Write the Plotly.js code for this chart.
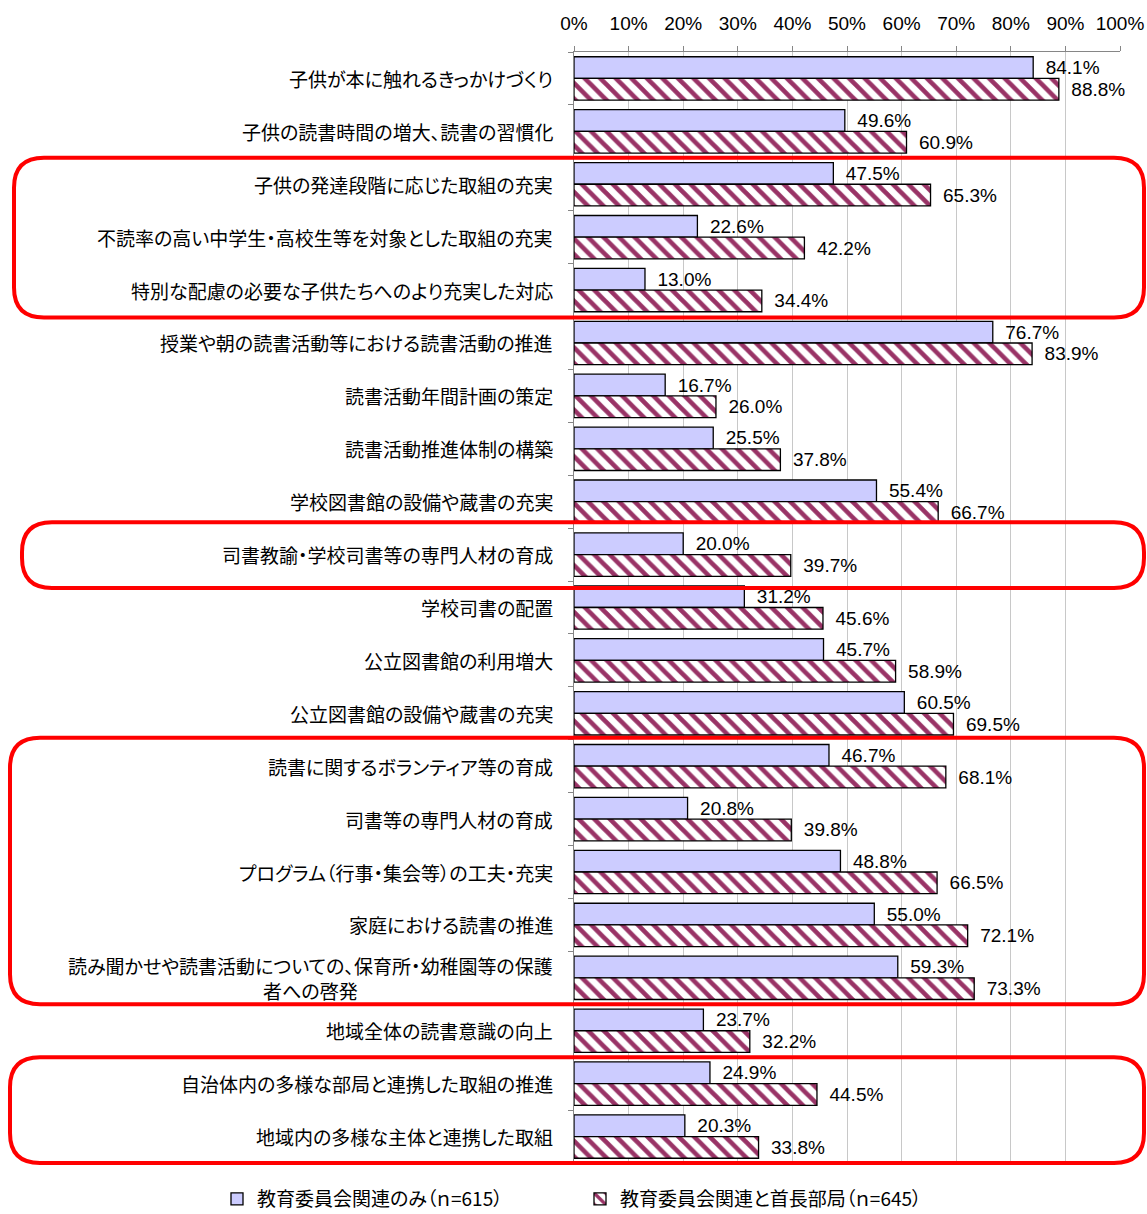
<!DOCTYPE html>
<html><head><meta charset="utf-8">
<script src="https://cdn.plot.ly/plotly-3.0.1.min.js"></script>
<style>html,body{margin:0;padding:0;background:#fff;} text{font-feature-settings:"palt";}</style>
</head><body><div id="chart" style="width:1147px;height:1214px;"></div>
<script>
const categories = [
  '子供が本に触れるきっかけづくり',
  '子供の読書時間の増大、読書の習慣化',
  '子供の発達段階に応じた取組の充実',
  '不読率の高い中学生・高校生等を対象とした取組の充実',
  '特別な配慮の必要な子供たちへのより充実した対応',
  '授業や朝の読書活動等における読書活動の推進',
  '読書活動年間計画の策定',
  '読書活動推進体制の構築',
  '学校図書館の設備や蔵書の充実',
  '司書教諭・学校司書等の専門人材の育成',
  '学校司書の配置',
  '公立図書館の利用増大',
  '公立図書館の設備や蔵書の充実',
  '読書に関するボランティア等の育成',
  '司書等の専門人材の育成',
  'プログラム（行事・集会等）の工夫・充実',
  '家庭における読書の推進',
  '読み聞かせや読書活動についての、保育所・幼稚園等の保護<br>者への啓発',
  '地域全体の読書意識の向上',
  '自治体内の多様な部局と連携した取組の推進',
  '地域内の多様な主体と連携した取組'
];
const seriesNames = ['教育委員会関連のみ（ｎ=615）', '教育委員会関連と首長部局（ｎ=645）'];
const valuesBoardOnly = [84.1, 49.6, 47.5, 22.6, 13.0, 76.7, 16.7, 25.5, 55.4, 20.0, 31.2, 45.7, 60.5, 46.7, 20.8, 48.8, 55.0, 59.3, 23.7, 24.9, 20.3];
const valuesBoardAndMayor = [88.8, 60.9, 65.3, 42.2, 34.4, 83.9, 26.0, 37.8, 66.7, 39.7, 45.6, 58.9, 69.5, 68.1, 39.8, 66.5, 72.1, 73.3, 32.2, 44.5, 33.8];
const xTickVals = [0, 10, 20, 30, 40, 50, 60, 70, 80, 90, 100];
const xTickText = ['0%', '10%', '20%', '30%', '40%', '50%', '60%', '70%', '80%', '90%', '100%'];
// highlighted category groups: [first index, last index]
const highlightGroups = [[2, 4], [9, 9], [13, 17], [19, 20]];

const W = 1147, H = 1214;
const M = {l: 574, r: 27, t: 52, b: 51, autoexpand: false};
const PW = W - M.l - M.r, PH = H - M.t - M.b;
const cell = PH / categories.length;
const X = px => (px - M.l) / PW;
const Y = py => (H - M.b - py) / PH;

function roundRect(x0, y0, x1, y1, r) {
  const f = v => v.toFixed(5);
  return 'M' + f(X(x0 + r)) + ',' + f(Y(y0)) +
    ' L' + f(X(x1 - r)) + ',' + f(Y(y0)) +
    ' Q' + f(X(x1)) + ',' + f(Y(y0)) + ' ' + f(X(x1)) + ',' + f(Y(y0 + r)) +
    ' L' + f(X(x1)) + ',' + f(Y(y1 - r)) +
    ' Q' + f(X(x1)) + ',' + f(Y(y1)) + ' ' + f(X(x1 - r)) + ',' + f(Y(y1)) +
    ' L' + f(X(x0 + r)) + ',' + f(Y(y1)) +
    ' Q' + f(X(x0)) + ',' + f(Y(y1)) + ' ' + f(X(x0)) + ',' + f(Y(y1 - r)) +
    ' L' + f(X(x0)) + ',' + f(Y(y0 + r)) +
    ' Q' + f(X(x0)) + ',' + f(Y(y0)) + ' ' + f(X(x0 + r)) + ',' + f(Y(y0)) + ' Z';
}
const groupStyle = [
  {left: 14, padT: 0, padB: 1},
  {left: 22, padT: 6, padB: 7},
  {left: 10, padT: 2, padB: 0},
  {left: 10, padT: 0, padB: 0}
];
const shapes = highlightGroups.map((g, k) => {
  const s = groupStyle[k];
  const top = M.t + g[0] * cell - s.padT;
  const bot = M.t + (g[1] + 1) * cell + s.padB;
  return {
    type: 'path', xref: 'paper', yref: 'paper',
    path: roundRect(s.left, top, 1144, bot, 30),
    line: {color: '#ff0000', width: 4}, fillcolor: 'rgba(0,0,0,0)', layer: 'above'
  };
});

const yIdx = categories.map((c, i) => i);
const numFont = {family: 'Liberation Sans, Noto Sans CJK JP, sans-serif', size: 19, color: '#000'};
const cjk = 'Noto Sans CJK JP, sans-serif';

const traces = [
  {
    type: 'bar', orientation: 'h', name: seriesNames[0],
    x: valuesBoardOnly, y: yIdx,
    marker: {color: '#ccccff', line: {color: '#000', width: 1.3}},
    texttemplate: '\u2002%{x:.1f}%', textposition: 'outside', cliponaxis: false,
    constraintext: 'none', textfont: numFont, hoverinfo: 'none'
  },
  {
    type: 'bar', orientation: 'h', name: seriesNames[1],
    x: valuesBoardAndMayor, y: yIdx,
    marker: {color: '#ffffff', line: {color: '#000', width: 1.3},
      pattern: {shape: '\\', fgcolor: '#993366', bgcolor: '#ffffff', size: 11, solidity: 0.42, fillmode: 'replace'}},
    texttemplate: '\u2002%{x:.1f}%', textposition: 'outside', cliponaxis: false,
    constraintext: 'none', textfont: numFont, hoverinfo: 'none'
  }
];

const annotations = categories.map((c, i) => ({
  x: X(555), xref: 'paper', xanchor: 'right',
  y: i, yref: 'y', yanchor: 'middle',
  text: c, showarrow: false, align: 'center',
  font: {family: cjk, size: 19, color: '#000'}
}));

const layout = {
  width: W, height: H, margin: M,
  paper_bgcolor: '#fff', plot_bgcolor: '#fff',
  barmode: 'group', bargap: 0.18, bargroupgap: 0,
  font: {family: cjk, color: '#000'},
  xaxis: {
    side: 'top', range: [0, 100], autorange: false,
    tickvals: xTickVals, ticktext: xTickText,
    showgrid: true, gridcolor: '#c8c8c8', gridwidth: 1,
    showline: true, linecolor: '#868686', linewidth: 1,
    ticks: 'outside', ticklen: 5, tickcolor: '#868686',
    tickfont: numFont, ticklabelstandoff: 8, zeroline: false
  },
  yaxis: {
    type: 'linear', range: [categories.length - 0.5, -0.5], autorange: false,
    showticklabels: false, showgrid: false, zeroline: false,
    showline: true, linecolor: '#868686', linewidth: 1,
    ticks: 'outside', ticklen: 5, tickcolor: '#868686',
    tickvals: categories.map((c, i) => i - 0.5).concat([categories.length - 0.5])
  },
  showlegend: true,
  legend: {
    orientation: 'h', xref: 'paper', yref: 'paper',
    x: X(217), xanchor: 'left', y: Y(1199), yanchor: 'middle',
    font: {family: cjk, size: 19, color: '#000'},
    entrywidth: 318, entrywidthmode: 'pixels', itemwidth: 30,
    traceorder: 'normal'
  },
  shapes: shapes,
  annotations: annotations
};

Plotly.newPlot('chart', traces, layout, {displayModeBar: false, staticPlot: true});
</script>
</body></html>
